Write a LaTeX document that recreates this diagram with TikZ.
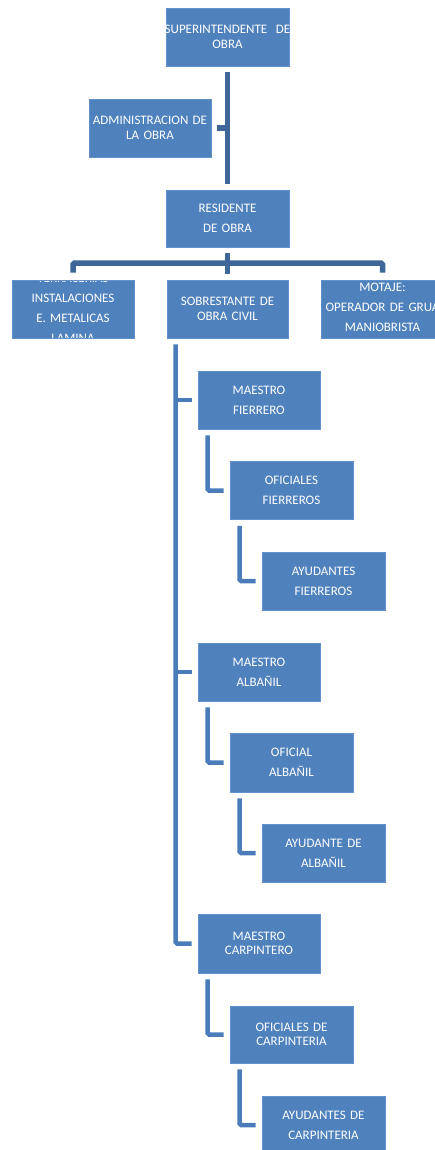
\documentclass[tikz,border=0pt]{standalone}
\usepackage{fontspec}
\setmainfont{Carlito}
\begin{document}
\definecolor{boxfill}{RGB}{79,129,189}
\definecolor{boxedge}{RGB}{96,145,203}
\definecolor{topline}{RGB}{62,102,152}
\definecolor{lowline}{RGB}{74,124,186}
\begin{tikzpicture}[x=1pt,y=-1pt,
  orgbox/.style={rectangle, fill=boxfill, draw=boxedge, line width=0.7pt,
    inner sep=0pt, minimum height=58pt, text width=122pt, align=center,
    text=white},
  tight/.style={font=\fontsize{13}{14.5}\selectfont},
  loose/.style={font=\fontsize{13}{20}\selectfont},
  upper/.style={draw=topline, line width=5.5pt, rounded corners=1.5pt},
  lower/.style={draw=lowline, line width=4.5pt, rounded corners=1.5pt},
  cliptext/.style={text=white, align=center, inner sep=0pt, loose}]
\useasboundingbox (0,0) rectangle (435,1150);

% upper management
\node[orgbox, tight, text width=123pt] (sup) at (227.5,37) {\makebox[123pt]{SUPERINTENDENTE\ \ DE}\\OBRA};
\node[orgbox, tight] (adm) at (150,128) {ADMINISTRACION DE\\LA OBRA};
\node[orgbox, loose, text width=123pt, minimum height=57pt] (res) at (227.5,218.5) {RESIDENTE\\DE OBRA};

% second level
\node[orgbox, minimum width=122pt,
  path picture={\node[cliptext] at ([yshift=1pt]path picture bounding box.center)
    {TERRACERIAS\\INSTALACIONES\\E. METALICAS\\LAMINA};}] (lft) at (73,309) {};
\node[orgbox, tight, text width=121pt] (sob) at (227.5,309) {SOBRESTANTE DE\\OBRA CIVIL};
\node[orgbox, minimum width=123pt, text width=123pt,
  path picture={\node[cliptext] at ([yshift=2pt]path picture bounding box.center)
    {MOTAJE:\\OPERADOR DE GRUA\\MANIOBRISTA};}] (rgt) at (382.5,309) {};

% trades
\node[orgbox, loose] (mf) at (259,400) {MAESTRO\\FIERRERO};
\node[orgbox, loose, text width=123pt] (of) at (291.5,490.5) {OFICIALES\\FIERREROS};
\node[orgbox, loose, text width=123pt] (af) at (323.5,581) {AYUDANTES\\FIERREROS};
\node[orgbox, loose] (ma) at (259,672) {MAESTRO\\ALBAÑIL};
\node[orgbox, loose, text width=123pt, minimum height=59pt] (oa) at (291.5,762.5) {OFICIAL\\ALBAÑIL};
\node[orgbox, loose, text width=123pt] (aa) at (323.5,853) {AYUDANTE DE\\ALBAÑIL};
\node[orgbox, tight, minimum height=59pt] (mc) at (259,943.5) {MAESTRO\\CARPINTERO};
\node[orgbox, tight, text width=123pt, minimum height=57pt] (oc) at (291.5,1034.5) {OFICIALES DE\\CARPINTERIA};
\node[orgbox, loose, text width=123pt] (ac) at (323.5,1125) {AYUDANTES DE\\CARPINTERIA};

% upper connectors
\draw[upper] ([yshift=-6pt]sup.south) -- ([yshift=6pt]res.north);
\draw[upper] ([xshift=6pt]adm.east) -- (adm.east -| sup.south);
\coordinate (bar) at (227,263);
\draw[upper] ([yshift=-6pt]res.south) -- ([yshift=6pt]sob.north);
\draw[upper] ([yshift=7pt]lft.north) |- (bar) -| ([yshift=7pt]rgt.north);

% civil works spine
\coordinate (spine) at ([xshift=9pt,yshift=-6pt]sob.south west);
\draw[lower] (spine) |- ([xshift=-6pt]mc.west);
\draw[lower] (mf.west -| spine) -- ([xshift=-6pt]mf.west);
\draw[lower] (ma.west -| spine) -- ([xshift=-6pt]ma.west);

% trade chains
\draw[lower] ([xshift=10pt,yshift=-6pt]mf.south west) |- ([xshift=-6pt]of.west);
\draw[lower] ([xshift=10pt,yshift=-6pt]of.south west) |- ([xshift=-6pt]af.west);
\draw[lower] ([xshift=10pt,yshift=-6pt]ma.south west) |- ([xshift=-6pt]oa.west);
\draw[lower] ([xshift=10pt,yshift=-6pt]oa.south west) |- ([xshift=-6pt]aa.west);
\draw[lower] ([xshift=10pt,yshift=-6pt]mc.south west) |- ([xshift=-6pt]oc.west);
\draw[lower] ([xshift=10pt,yshift=-6pt]oc.south west) |- ([xshift=-6pt]ac.west);
\end{tikzpicture}
\end{document}
